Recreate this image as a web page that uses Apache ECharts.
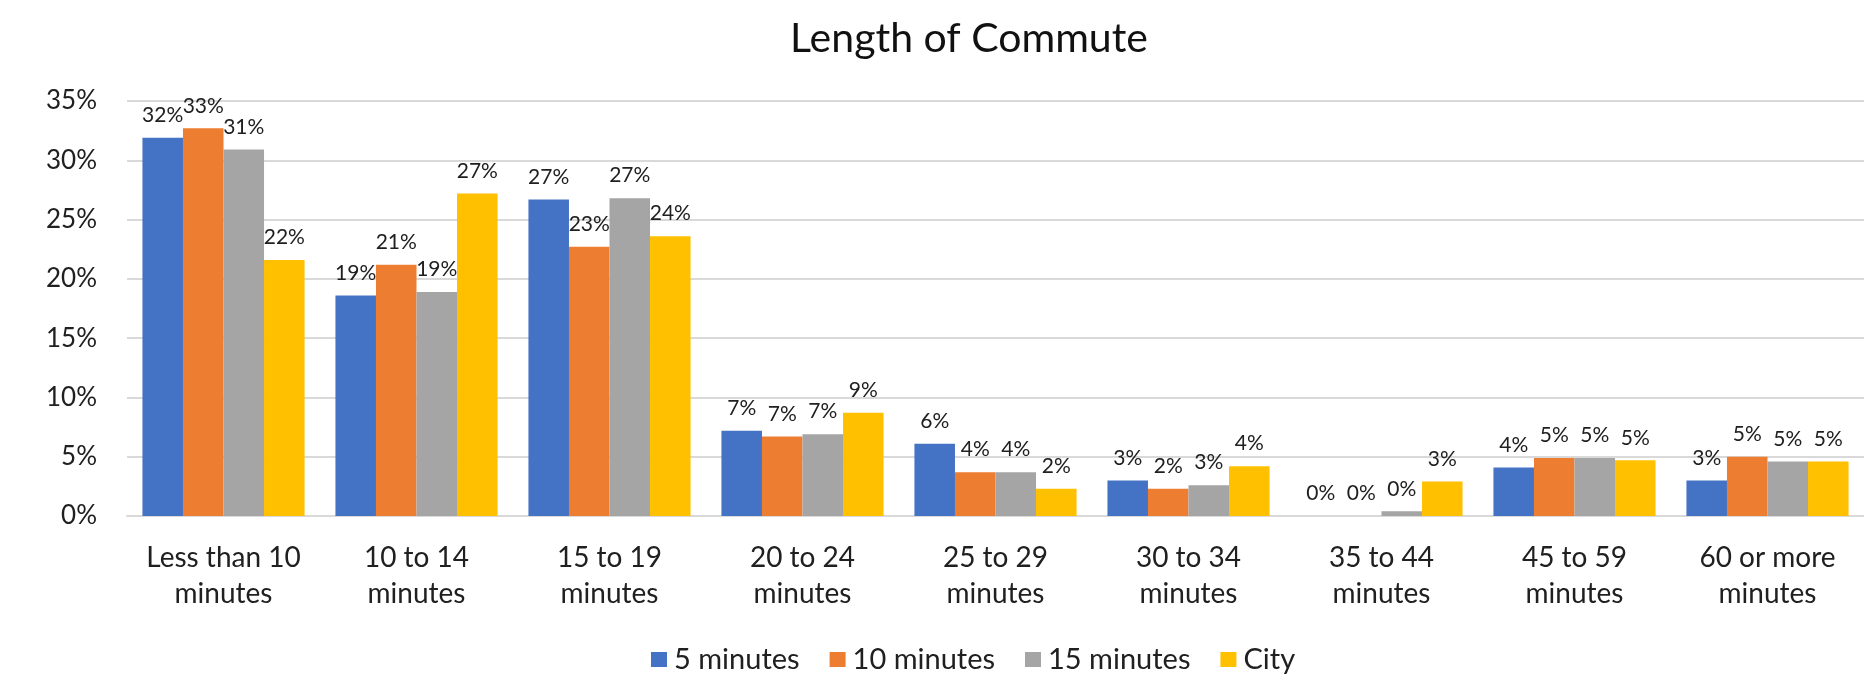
<!DOCTYPE html>
<html>
<head>
<meta charset="utf-8">
<title>Length of Commute</title>
<script src="https://cdn.jsdelivr.net/npm/echarts@6/dist/echarts.min.js"></script>
<style>
  html, body { margin: 0; padding: 0; background: #ffffff; }
  #chart { width: 1864px; height: 687px; }
</style>
</head>
<body>
<div id="chart"></div>
<script>
// Commute length buckets
const categories = [
  'Less than 10\nminutes', '10 to 14\nminutes', '15 to 19\nminutes',
  '20 to 24\nminutes', '25 to 29\nminutes', '30 to 34\nminutes',
  '35 to 44\nminutes', '45 to 59\nminutes', '60 or more\nminutes'
];

// Share of commuters (%) per group
const fiveMinutes    = [31.9, 18.6, 26.7, 7.2, 6.1, 3.0, 0.0, 4.1, 3.0];
const tenMinutes     = [32.7, 21.2, 22.7, 6.7, 3.7, 2.3, 0.0, 4.9, 5.0];
const fifteenMinutes = [30.9, 18.9, 26.8, 6.9, 3.7, 2.6, 0.4, 4.9, 4.6];
const city           = [21.6, 27.2, 23.6, 8.7, 2.3, 4.2, 2.9, 4.7, 4.6];

const seriesNames = ['5 minutes', '10 minutes', '15 minutes', 'City'];
const seriesColors = ['#4472C4', '#ED7D31', '#A5A5A5', '#FFC000'];
const seriesData = [fiveMinutes, tenMinutes, fifteenMinutes, city];

// Y axis ticks
const yMin = 0, yMax = 35, yStep = 5;

const FONT = 'Lato, "Open Sans", sans-serif';
const TEXT = '#202020';
const GRID = '#D9D9D9';

const chart = echarts.init(document.getElementById('chart'), null, { renderer: 'canvas' });

chart.setOption({
  backgroundColor: '#ffffff',
  animation: false,
  title: {
    text: 'Length of Commute',
    left: 964,
    textAlign: 'center',
    top: 13,
    textStyle: { fontFamily: FONT, fontSize: 41, fontWeight: 'normal', color: '#111' }
  },
  legend: {
    data: seriesNames,
    left: 646,
    top: 640,
    itemWidth: 16,
    itemHeight: 15,
    itemGap: 30,
    icon: 'rect',
    textStyle: { fontFamily: FONT, fontSize: 29, color: TEXT, padding: [0, 0, 0, 2] }
  },
  grid: { left: 127, top: 101, width: 1746, height: 415, containLabel: false },
  xAxis: {
    type: 'category',
    data: categories,
    axisLine: { show: true, lineStyle: { color: GRID, width: 2 } },
    axisTick: { show: false },
    axisLabel: {
      interval: 0,
      margin: 24,
      fontFamily: FONT,
      fontSize: 28,
      lineHeight: 36,
      color: TEXT
    }
  },
  yAxis: {
    type: 'value',
    min: yMin,
    max: yMax,
    interval: yStep,
    axisLine: { show: false },
    axisTick: { show: false },
    splitLine: { lineStyle: { color: GRID, width: 2 } },
    axisLabel: {
      margin: 30,
      fontFamily: FONT,
      fontSize: 26,
      color: TEXT,
      formatter: '{value}%'
    }
  },
  series: seriesNames.map((name, i) => ({
    name: name,
    type: 'bar',
    data: seriesData[i],
    barGap: '0%',
    barCategoryGap: '16%',
    itemStyle: { color: seriesColors[i] },
    label: {
      show: true,
      position: 'top',
      distance: 12,
      fontFamily: FONT,
      fontSize: 21,
      color: TEXT,
      formatter: p => Math.round(p.value) + '%'
    }
  }))
});
</script>
</body>
</html>
